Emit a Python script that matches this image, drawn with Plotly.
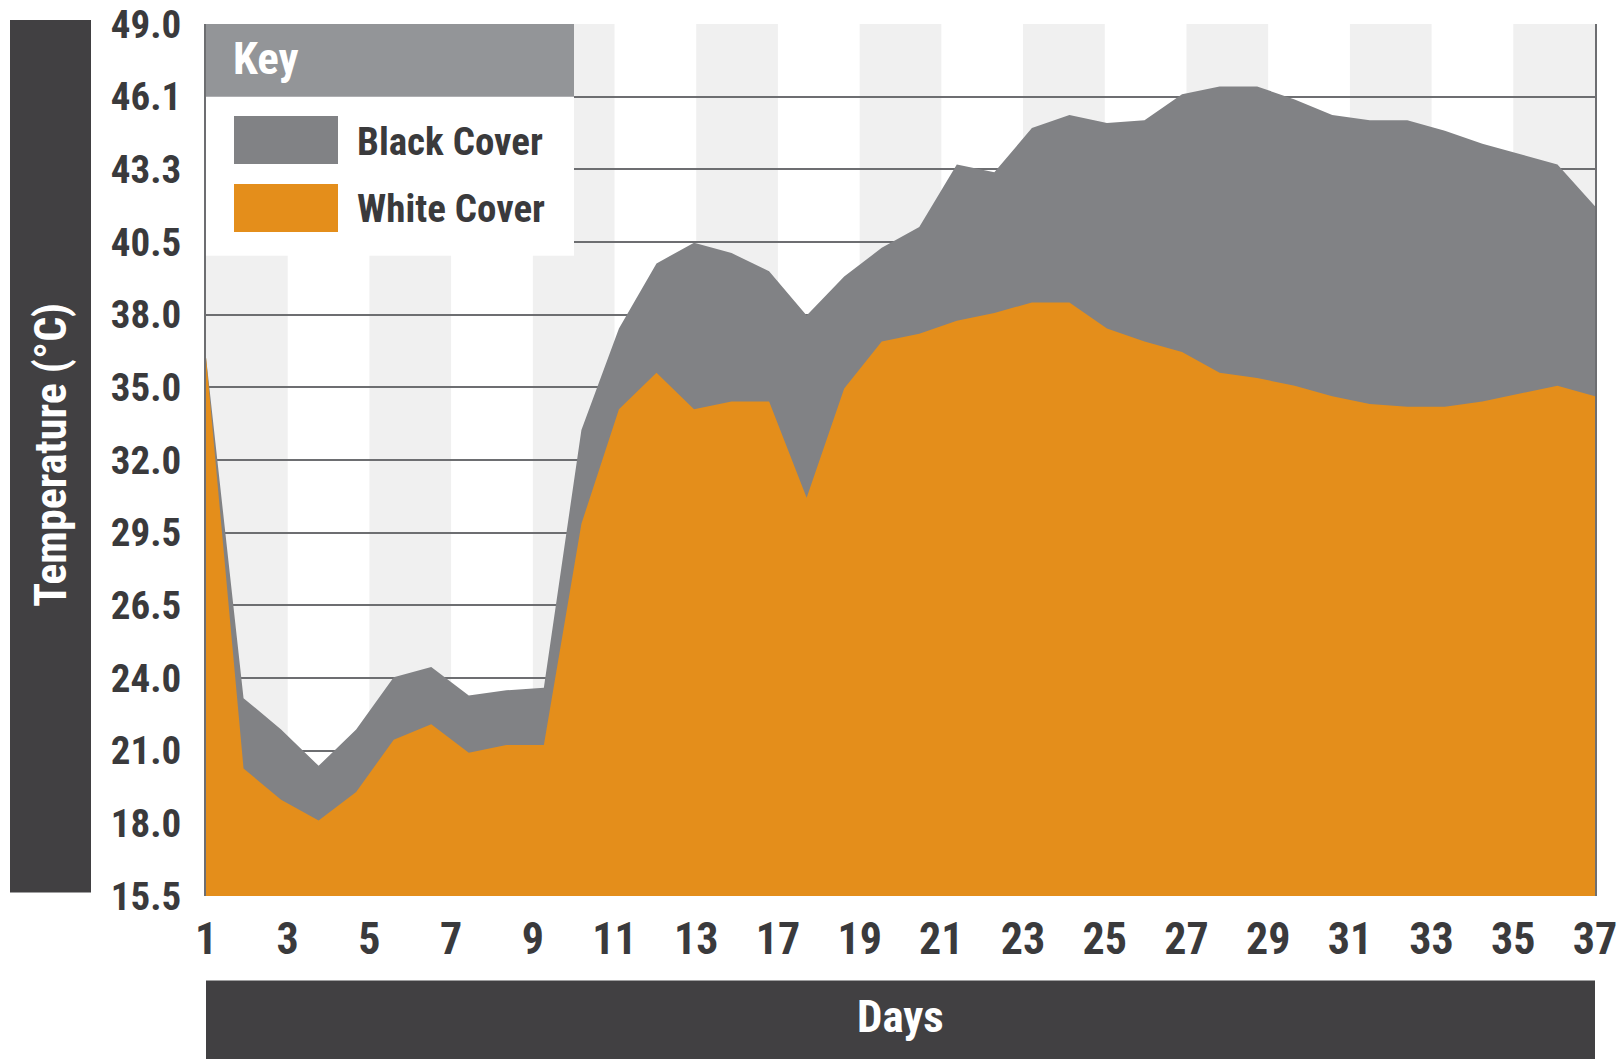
import plotly.graph_objects as go

# ---- data ----
point_index = list(range(38))
black_cover = [36.2, 23.1, 21.9, 20.5, 21.9, 23.9, 24.3, 23.2, 23.4, 23.5,
               33.4, 37.3, 39.8, 40.6, 40.2, 39.5, 37.8, 39.3, 40.4, 41.2,
               43.6, 43.3, 45.0, 45.5, 45.2, 45.3, 46.3, 46.6, 46.6, 46.1,
               45.5, 45.3, 45.3, 44.9, 44.4, 44.0, 43.6, 42.0]
white_cover = [36.2, 20.4, 19.2, 18.4, 19.5, 21.5, 22.1, 21.0, 21.3, 21.3,
               29.8, 34.2, 35.6, 34.2, 34.5, 34.5, 30.8, 35.0, 36.8, 37.1,
               37.6, 37.9, 38.3, 38.3, 37.3, 36.8, 36.4, 35.6, 35.4, 35.1,
               34.7, 34.4, 34.3, 34.3, 34.5, 34.8, 35.1, 34.7]
x_tick_labels = ["1", "3", "5", "7", "9", "11", "13", "17", "19", "21", "23",
                 "25", "27", "29", "31", "33", "35", "37"]
y_tick_labels = ["15.5", "18.0", "21.0", "24.0", "26.5", "29.5", "32.0",
                 "35.0", "38.0", "40.5", "43.3", "46.1", "49.0"]
series_names = ["Black Cover", "White Cover"]

# ---- style ----
FONT = "Roboto Condensed, Liberation Sans Narrow, Roboto, sans-serif"
ORANGE = "#E48E1B"
GRAY = "#818285"
HEADER = "#939598"
DARK = "#414042"
GRID = "#6d6e71"
BAND = "#f0f0f0"
TEXT = "#3a3a3c"

W, H = 1617, 1059
L, R, T, B = 206, 22, 24, 162.5

x_max = len(point_index) - 1
y_min, y_max = 15.5, 49.0
n_y = len(y_tick_labels) - 1
y_tickvals = [round(y_min + k * (y_max - y_min) / n_y, 9) for k in range(n_y + 1)]
n_x = len(x_tick_labels) - 1
x_tickvals = [round(k * x_max / n_x, 9) for k in range(n_x + 1)]

fig = go.Figure()
fig.add_trace(go.Scatter(x=point_index, y=black_cover, name=series_names[0],
                         mode="lines", fill="tozeroy", fillcolor=GRAY,
                         line=dict(width=0, color=GRAY), showlegend=False))
fig.add_trace(go.Scatter(x=point_index, y=white_cover, name=series_names[1],
                         mode="lines", fill="tozeroy", fillcolor=ORANGE,
                         line=dict(width=0, color=ORANGE), showlegend=False))

shapes = []
# alternating background bands (one per tick interval)
n_bands = n_x
for k in range(0, n_bands, 2):
    shapes.append(dict(type="rect", xref="paper", yref="paper",
                       x0=k / n_bands, x1=(k + 1) / n_bands, y0=0, y1=1,
                       fillcolor=BAND, line=dict(width=0), layer="below"))

pw = W - L - R
ph = H - T - B
def px(xp):
    return (xp - L) / pw
def py(yp):
    return (H - B - yp) / ph

# key box
shapes.append(dict(type="rect", xref="paper", yref="paper",
                   x0=0, x1=px(574), y0=py(256), y1=1,
                   fillcolor="white", line=dict(width=0), layer="above"))
shapes.append(dict(type="rect", xref="paper", yref="paper",
                   x0=0, x1=px(574), y0=py(96.7), y1=1,
                   fillcolor=HEADER, line=dict(width=0), layer="above"))
shapes.append(dict(type="rect", xref="paper", yref="paper",
                   x0=px(234), x1=px(338), y0=py(164), y1=py(116),
                   fillcolor=GRAY, line=dict(width=0), layer="above"))
shapes.append(dict(type="rect", xref="paper", yref="paper",
                   x0=px(234), x1=px(338), y0=py(232), y1=py(184),
                   fillcolor=ORANGE, line=dict(width=0), layer="above"))
# axis title bars
shapes.append(dict(type="rect", xref="paper", yref="paper",
                   x0=px(10), x1=px(91), y0=py(893), y1=py(20),
                   fillcolor=DARK, line=dict(width=0), layer="above"))
shapes.append(dict(type="rect", xref="paper", yref="paper",
                   x0=0, x1=1, y0=py(1062), y1=py(981),
                   fillcolor=DARK, line=dict(width=0), layer="above"))

annotations = [
    dict(text="Key", xref="paper", yref="paper", x=px(231), y=py(59),
         xanchor="left", yanchor="middle", showarrow=False,
         font=dict(family=FONT, size=45, color="white", weight="bold")),
    dict(text=series_names[0], xref="paper", yref="paper", x=px(355), y=py(142),
         xanchor="left", yanchor="middle", showarrow=False,
         font=dict(family=FONT, size=39, color=TEXT, weight="bold")),
    dict(text=series_names[1], xref="paper", yref="paper", x=px(355), y=py(209),
         xanchor="left", yanchor="middle", showarrow=False,
         font=dict(family=FONT, size=39, color=TEXT, weight="bold")),
    dict(text="Temperature (°C)", xref="paper", yref="paper", x=px(51), y=py(455),
         xanchor="center", yanchor="middle", showarrow=False, textangle=-90,
         font=dict(family=FONT, size=44, color="white", weight="bold")),
    dict(text="Days", xref="paper", yref="paper", x=0.5, y=py(1017),
         xanchor="center", yanchor="middle", showarrow=False,
         font=dict(family=FONT, size=45, color="white", weight="bold")),
]

fig.update_layout(
    width=W, height=H,
    margin=dict(l=L, r=R, t=T, b=B, pad=0, autoexpand=False),
    paper_bgcolor="white", plot_bgcolor="rgba(0,0,0,0)",
    shapes=shapes, annotations=annotations,
    showlegend=False,
    xaxis=dict(range=[0, x_max], tickvals=x_tickvals, ticktext=x_tick_labels,
               showgrid=False, zeroline=False, showline=False, ticks="",
               automargin=False, ticklabelstandoff=13,
               ticklabeloverflow="allow",
               tickfont=dict(family=FONT, size=44, color=TEXT, weight="bold")),
    yaxis=dict(range=[y_min, y_max], tickvals=y_tickvals, ticktext=y_tick_labels,
               showgrid=True, gridcolor=GRID, gridwidth=2, zeroline=False,
               showline=True, linecolor=GRID, linewidth=2, mirror=True,
               automargin=False, layer="below traces", ticks="",
               ticklabelstandoff=15, ticklabeloverflow="allow",
               tickfont=dict(family=FONT, size=39, color=TEXT, weight="bold")),
)

fig.write_html("out.html", config={"displayModeBar": False},
               post_script="document.body.style.margin='0px';")
